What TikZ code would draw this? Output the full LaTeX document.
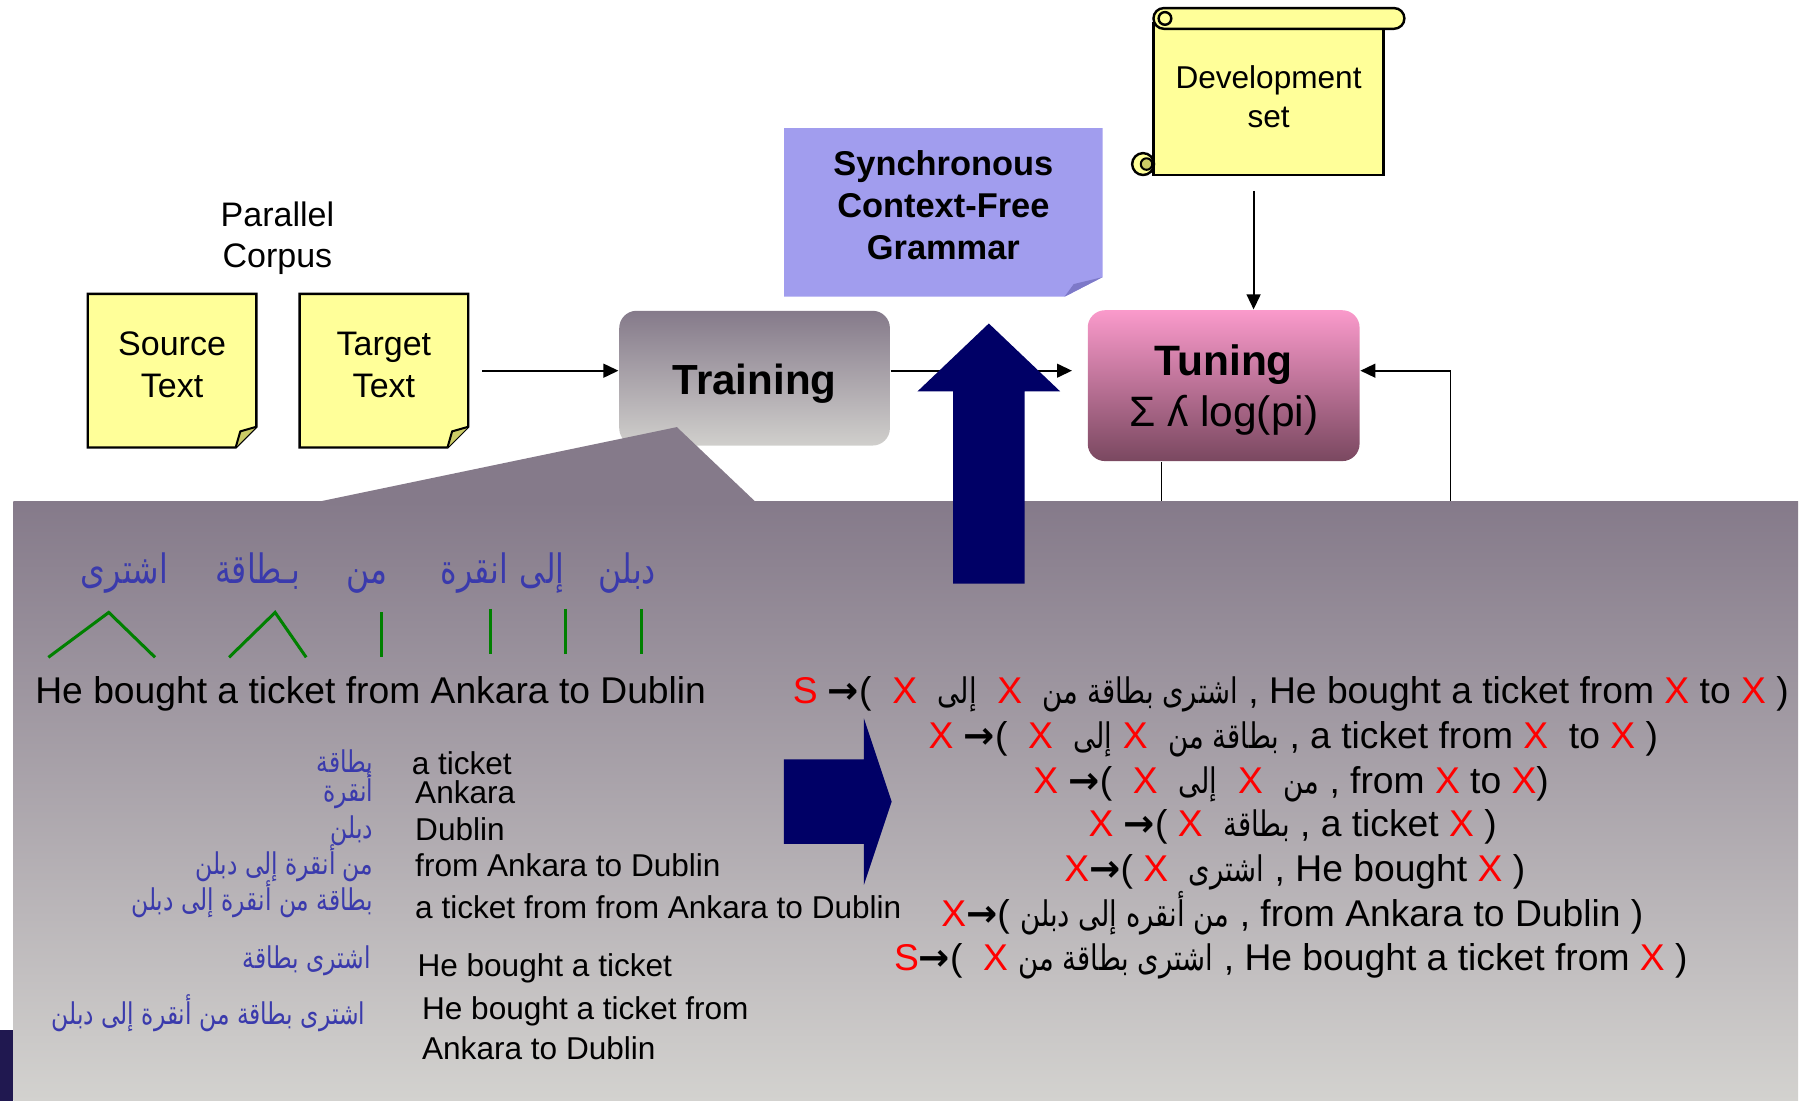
\documentclass[tikz,border=0pt]{standalone}
\usepackage{fontspec}
\setmainfont{Liberation Sans}
\newfontfamily\arabicfont[Script=Arabic, FakeStretch=0.78]{DejaVu Sans}
\newfontfamily\symfont{DejaVu Sans}
\TeXXeTstate=1
\usetikzlibrary{positioning, arrows.meta, calc, backgrounds}

\definecolor{notegelb}{RGB}{255,255,153}
\definecolor{notefalt}{RGB}{204,204,102}
\definecolor{gramlila}{RGB}{161,157,238}
\definecolor{gramfalt}{RGB}{125,121,200}
\definecolor{pfeilblau}{RGB}{0,0,102}
\definecolor{paneloben}{RGB}{133,122,138}
\definecolor{panelunten}{RGB}{211,210,207}
\definecolor{trainunten}{RGB}{208,207,204}
\definecolor{tunoben}{RGB}{250,154,203}
\definecolor{tununten}{RGB}{122,72,96}
\definecolor{arblau}{RGB}{58,58,172}
\definecolor{alignruen}{RGB}{0,128,0}
\definecolor{streifen}{RGB}{32,24,80}

\newcommand{\fs}[2]{\fontsize{#1}{#2}\selectfont}
\newcommand{\artext}[1]{{\arabicfont\beginR #1\endR}}
\newcommand{\arrule}[1]{{\arabicfont\fs{8.7}{9}\beginR #1\endR}}
\newcommand{\rx}{\textcolor{red}{X}}
\newcommand{\rs}{\textcolor{red}{S}}
\newcommand{\pf}{{\symfont\bfseries →}}

\begin{document}
\begin{tikzpicture}[x=0.01cm, y=-0.01cm,
    note/.style={rectangle, inner sep=0pt, minimum width=1.45cm, minimum height=1.32cm},
    notetext/.style={align=center, font=\fs{8.4}{10.2}, yshift=0.05cm},
    procbox/.style={rectangle, rounded corners=0.15cm, inner sep=0pt, align=center},
    conn/.style={-{Triangle[length=0.13cm, width=0.12cm]}, line width=0.45pt},
    link/.style={line width=0.75pt, alignruen},
    arword/.style={inner sep=0pt, anchor=base, text=arblau, font=\arabicfont\fs{10}{10}},
    arlist/.style={inner sep=0pt, anchor=base east, text=arblau, font=\arabicfont\fs{7.4}{9}},
    enlist/.style={inner sep=0pt, anchor=base west, font=\fs{7.8}{9.7}},
    prodrule/.style={inner sep=0pt, anchor=base west, font=\fs{9.2}{11}}
  ]
  \useasboundingbox (0,0) rectangle (1568,956);

  % Knoten
  \node[align=center, font=\fs{8.4}{10}] (corpus) at (241,207) {Parallel\\Corpus};
  \node[note, label={[notetext]center:{Source\\Text}}] (src) at (149.5,322) {};
  \node[note, label={[notetext]center:{Target\\Text}}] (tgt) at (333.5,322) {};
  \node[procbox, minimum width=2.35cm, minimum height=1.17cm, top color=paneloben, bottom color=trainunten,
        label={[font=\bfseries\fs{10.4}{12}, yshift=-0.05cm]center:Training}] (train) at (655.5,328.5) {};
  \node[procbox, minimum width=2.36cm, minimum height=1.31cm, top color=tunoben, bottom color=tununten,
        label={[align=center, font=\fs{10.5}{12.5}, yshift=-0.04cm]center:{\textbf{Tuning}\\Σ ʎ log(pi)}}] (tun) at (1063,335) {};
  \node[rectangle, inner sep=0pt, minimum width=2.75cm, minimum height=1.45cm,
        label={[align=center, font=\bfseries\fs{8.5}{10.4}, yshift=0.06cm]center:{Synchronous\\Context-Free\\Grammar}}] (scfg) at (819.5,184.5) {};
  \node[align=center, inner sep=0pt, minimum width=2cm, minimum height=1.36cm, font=\fs{7.8}{9.7}] (dev) at (1102,84) {Development\\set};

  % Formen im Hintergrund
  \begin{scope}[on background layer]
    \foreach \n in {src,tgt} {
      \filldraw[fill=notegelb, line width=0.6pt] (\n.north west) -- (\n.north east) -- ([yshift=0.18cm]\n.south east)
        -- ([xshift=-0.18cm]\n.south east) -- (\n.south west) -- cycle;
      \filldraw[fill=notefalt, line width=0.5pt, line join=round] ([yshift=0.18cm]\n.south east)
        -- ([xshift=-0.14cm, yshift=0.14cm]\n.south east) -- ([xshift=-0.18cm]\n.south east);
    }
    \fill[gramlila] (scfg.north west) -- (scfg.north east) -- ([yshift=0.17cm]scfg.south east)
      -- ([xshift=-0.33cm]scfg.south east) -- (scfg.south west) -- cycle;
    \fill[gramfalt] ([yshift=0.17cm]scfg.south east) -- ([xshift=-0.25cm, yshift=0.11cm]scfg.south east)
      -- ([xshift=-0.33cm]scfg.south east) -- cycle;
    % Schriftrolle
    \filldraw[fill=notegelb, line width=0.6pt] (1002,20) rectangle (1202,152);
    \filldraw[fill=notegelb, line width=0.6pt, rounded corners=0.09cm] (1002,7) rectangle (1220,25);
    \draw[line width=0.6pt] (1012,16) circle[radius=0.055cm];
    \filldraw[fill=notegelb, line width=0.6pt] (993,142.5) circle[radius=0.095cm];
    \filldraw[fill=notefalt, line width=0.5pt] (996,142.5) circle[radius=0.05cm];
  \end{scope}

  % Kanten
  \draw[conn] ([xshift=0.12cm]tgt.east) -- (tgt.east -| train.west);
  \draw[conn, shorten >=0.13cm] (tgt.east -| train.east) -- (tgt.east -| tun.west);
  \draw[conn] ([xshift=-0.13cm, yshift=-0.13cm]dev.south) -- ([xshift=-0.13cm]dev.south |- tun.north);
  \coordinate (rueck) at (1260,436);
  \coordinate (tunab) at (1009,436);
  \draw[conn] (rueck) |- (tgt.east -| tun.east);
  \draw[line width=0.45pt] (tun.south -| tunab) -- (tunab);

  % Panel
  \fill[paneloben] (271,437) -- (588,371) -- (657.5,437) -- cycle;
  \shade[top color=paneloben, bottom color=panelunten] (11.7,435.5) rectangle (1562,956);
  \fill[streifen] (0,895) rectangle (11.7,956);

  % Blockpfeile
  \fill[pfeilblau] (828,507) -- (828,340) -- (797,340) -- (859,281) -- (921,340) -- (890,340) -- (890,507) -- cycle;
  \fill[pfeilblau] (681,659.6) -- (750.5,659.6) -- (750.5,624) -- (774.6,696.4) -- (750.5,768.7) -- (750.5,733) -- (681,733) -- cycle;

  % Wortalignment
  \foreach \w/\x [count=\i] in {اشترى/108, بـطاقة/224, من/319, انقرة/412, إلى/471, دبلن/545}
    \node[arword] (w\i) at (\x,507) {\artext{\w}};
  \node[prodrule] (sent) at (30,611) {He bought a ticket from Ankara to Dublin};
  \draw[link] (42,571) -- (94.5,532) -- (134.7,571);
  \draw[link] (199,571) -- (239,532) -- (266,571);
  \draw[link] (331,532) -- (331,571);
  \foreach \x in {426,491,557}
    \draw[link] (\x,529) -- (\x,568);

  % Phrasenpaare
  \foreach \arw/\enw/\ya/\xa/\ye/\xe [count=\i] in {
      بطاقة/a ticket/671/325/673/357,
      أنقرة/Ankara/696/325/698/360,
      دبلن/Dublin/728/325/730/360,
      من أنقرة إلى دبلن/from Ankara to Dublin/760/325/761/360,
      بطاقة من أنقرة إلى دبلن/a ticket from from Ankara to Dublin/791/325/798/360,
      اشترى بطاقة/He bought a ticket/841/323/848/362} {
    \node[arlist] (ar\i) at (\xa,\ya) {\artext{\arw}};
    \node[enlist] (en\i) at (\xe,\ye) {\enw};
  }
  \node[arlist] (ar7) at (318,890) {\artext{اشترى بطاقة من أنقرة إلى دبلن}};
  \node[enlist] (en7) at (366,886) {He bought a ticket from};
  \node[enlist] (en8) at (366,920) {Ankara to Dublin};

  % Regeln
  \node[prodrule] (r1) at (688,611) {\rs\ \pf(\ \ \rx\ \ \arrule{إلى}\ \ \rx\ \ \arrule{اشترى بطاقة من} , He bought a ticket from \rx{} to \rx{} )};
  \node[prodrule] (r2) at (806,650) {\rx\ \pf(\ \ \rx\ \ \arrule{إلى}\ \rx\ \ \arrule{بطاقة من} , a ticket from \rx\ \ to \rx{} )};
  \node[prodrule] (r3) at (897,689) {\rx\ \pf(\ \ \rx\ \ \arrule{إلى}\ \ \rx\ \ \arrule{من} , from \rx{} to \rx)};
  \node[prodrule] (r4) at (945,727) {\rx\ \pf(\ \rx\ \ \arrule{بطاقة} , a ticket \rx{} )};
  \node[prodrule] (r5) at (924,766) {\rx\pf(\ \rx\ \ \arrule{اشترى} , He bought \rx{} )};
  \node[prodrule] (r6) at (817,805) {\rx\pf(\ \arrule{من أنقره إلى دبلن} , from Ankara to Dublin )};
  \node[prodrule] (r7) at (776,843) {\rs\pf(\ \ \rx\ \arrule{اشترى بطاقة من} , He bought a ticket from \rx{} )};

\end{tikzpicture}
\end{document}
